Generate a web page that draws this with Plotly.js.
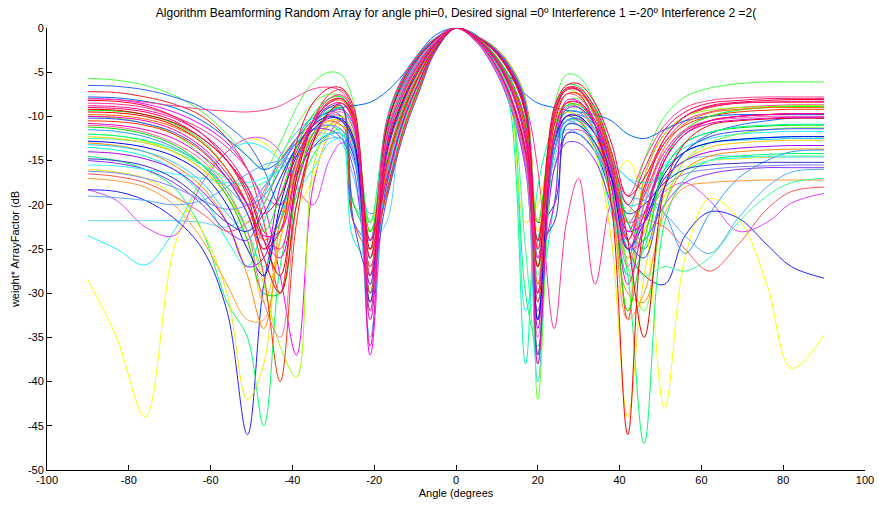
<!DOCTYPE html>
<html><head><meta charset="utf-8">
<script src="https://cdn.plot.ly/plotly-3.0.1.min.js"></script>
<style>html,body{margin:0;padding:0;background:#fff}#chart{width:879px;height:505px}</style>
</head><body><div id="chart"></div>
<script>
// Angles (degrees) at which each beam pattern was read
const angles = [-90,-83,-76,-69,-62,-56,-51,-47,-43,-39,-35,-31,-28,-25,-21,-17,-13,-9,-5,0,5,9,13,17,20,24,27,30,34,38,42,46,51,56,62,69,76,82,90];

// weight*ArrayFactor (dB) for each random array realisation
const s01 = [-5.7,-5.9,-6.5,-7.6,-9.5,-12,-14.5,-16,-13,-9,-6.2,-5,-5.3,-8.5,-24,-11,-5.8,-3,-1.2,0,-1.15,-2.9,-5.8,-11,-27,-9,-5.3,-5.5,-8.5,-14,-21,-15,-10,-7.8,-6.8,-6.3,-6.1,-6.1,-6.1];
const s02 = [-6.5,-6.6,-7,-7.8,-9,-11,-13,-16,-20,-15,-11,-9.5,-10,-22,-24,-13.5,-8.2,-4.5,-1.8,0,-1.5,-4,-8,-15,-30,-13,-10,-9.8,-11,-15,-22,-25,-18,-14,-12,-11,-10.5,-10.2,-10.2];
const s03 = [-7.2,-7.3,-7.8,-8.6,-10,-12.5,-16,-22,-30,-17,-10.5,-7.5,-7,-9.5,-27,-18.5,-11.8,-6.8,-2.5,0,-0.9,-2,-4.1,-8.2,-26,-10,-6.8,-7,-10,-17,-33,-17,-12,-10,-9,-8.5,-8.4,-8.4,-8.4];
const s04 = [-8,-8.1,-8.6,-9.5,-11,-13,-16,-20,-28,-37,-18,-12,-10.5,-12,-37,-16.5,-10,-5.5,-2.2,0,-1.25,-3.1,-6.2,-11.5,-33,-14,-10,-10,-12,-18,-24,-19,-14,-11.5,-10.5,-10,-9.8,-9.7,-9.7];
const s05 = [-8.5,-8.6,-9,-10,-11.5,-13.5,-16,-19,-20,-16,-12,-10,-10,-13,-29,-12.5,-7.5,-4,-1.7,0,-0.95,-2.1,-4.3,-8.5,-16,-34,-22,-17,-29,-20,-26,-18,-13,-10.5,-9.5,-9,-8.8,-8.7,-8.7];
const s06 = [-23.5,-25,-26.8,-23,-17,-14,-13,-13.5,-15,-18,-16,-13,-12.5,-15,-26,-10.5,-5.5,-2.8,-1.1,0,-1.3,-3.5,-7,-32,-24,-15,-11,-10.5,-12,-16,-22,-19,-15.5,-13.5,-12.5,-12,-11.8,-11.7,-11.7];
const s07 = [-28.5,-35,-44,-25,-17,-14,-12.5,-13,-15,-20,-17,-12,-11,-13.5,-30,-17.5,-11,-6.2,-2.4,0,-1.2,-3,-6,-11.2,-28,-12,-9.5,-10.5,-14,-17,-15,-21,-43,-26,-19.3,-21.5,-29,-38.5,-34.7];
const s08 = [-21.8,-21.8,-21.8,-21.8,-22,-22.5,-21,-18,-15,-13,-12,-12,-13,-17,-24,-22,-8.5,-4.6,-1.9,0,-1,-2.3,-4.5,-9,-29,-13,-10,-10.5,-13,-19,-28,-21,-17,-15,-14.5,-14.5,-14.6,-14.6,-14.6];
const s09 = [-18.3,-19.5,-22.5,-23.5,-17.5,-14,-12.5,-12.5,-14,-18,-20,-15,-13,-14,-24,-11.5,-6.2,-3.2,-1.3,0,-1.55,-4.1,-8.2,-15.5,-30,-16,-12,-11.5,-13,-17,-22,-21,-18.5,-17.5,-19.5,-23,-22,-19.8,-18.7];
const s10 = [-18.3,-18.5,-19.5,-21.5,-25,-32,-46,-29,-21,-16.5,-13.5,-12,-12,-14.5,-31,-15.5,-9.2,-5.1,-2,0,-1.1,-2.8,-5.5,-10.5,-22,-20,-12,-12,-14,-19,-25,-28,-29,-23.5,-20.8,-21.5,-24.5,-27,-28.3];
const s11 = [-14.5,-15,-16,-18,-23,-31,-35,-45,-27,-19,-14.5,-12,-11.5,-20,-22,-14,-8.8,-4.8,-1.9,0,-1.35,-3.6,-7.2,-30,-36,-14,-10.5,-10.5,-13,-18,-28,-47,-22,-17,-15,-14.5,-14.3,-14.2,-14.2];
const s12 = [-13,-13.3,-14,-15.5,-18,-22,-28,-34,-24,-17,-13,-11,-10.5,-12.5,-25,-19,-12,-7,-2.6,0,-0.92,-2.05,-4,-8,-25,-11,-8.5,-9,-12,-20,-30,-31,-20,-16,-14.5,-14,-13.8,-13.7,-13.7];
const s13 = [-16,-16.3,-17,-19,-23,-30,-42,-38,-22,-16,-12.5,-11,-11,-13,-25,-12,-6.5,-3.4,-1.4,0,-1.45,-3.9,-7.8,-22,-20,-12,-9.5,-10,-14,-24,-44,-28,-19,-16,-15,-14.8,-14.6,-14.5,-14.5];
const s14 = [-12,-12.2,-12.8,-14,-16,-19,-23,-29,-36,-39.5,-16,-11,-10,-12,-22,-13,-7.8,-4.2,-1.7,0,-1.2,-3.1,-6.1,-11.8,-24,-10,-7,-7.5,-11,-19,-32,-17,-12,-10,-9.3,-9,-8.9,-8.8,-8.8];
const s15 = [-17,-17.3,-18,-20,-24,-29,-33,-33,-22,-15.5,-12,-10.5,-10.5,-12.5,-23,-15,-9,-5,-2,0,-0.97,-2.2,-4.4,-8.8,-22,-11,-8.5,-9,-12,-19,-33,-30,-21,-18,-17.5,-17.3,-17.2,-17.2,-17.2];
const s16 = [-7.8,-7.9,-8.3,-9,-10.5,-12.5,-14.5,-16,-15,-12.5,-10.5,-9.5,-9,-8.8,-8.4,-7.2,-5.3,-2.8,-0.8,0,-0.8,-2.8,-5.4,-7.5,-8.5,-9,-9.3,-9.5,-9.8,-10.5,-12,-12.5,-11.5,-10.5,-10,-9.8,-9.8,-9.8,-9.8];
const s17 = [-13.5,-13.8,-14.5,-16,-19,-24,-27,-22,-17,-13.5,-11.5,-11,-12,-24,-26,-18,-11.2,-6.4,-2.4,0,-1.25,-3.2,-6.4,-12,-30,-20,-10,-10.5,-13.5,-21,-26,-20,-16,-14,-13,-12.6,-12.4,-12.3,-12.3];
const s18 = [-15,-15.3,-16,-17.5,-20,-23,-24,-20,-16,-13,-11.5,-11.5,-12.5,-16,-29,-10.8,-5.7,-2.9,-1.15,0,-1.6,-4.3,-8.5,-16,-32,-16,-13,-13,-15,-20,-25,-24,-20,-17.5,-16.5,-16,-15.8,-15.8,-15.8];
const s19 = [-12.5,-12.6,-13,-14,-15.5,-17,-18,-17.5,-16,-14,-12,-10.5,-10.5,-13,-32,-14.5,-8.5,-4.6,-1.85,0,-1.3,-3.5,-7,-25,-38,-14,-10.5,-10.5,-13,-19,-25,-28,-27,-27.5,-26,-22,-19,-17.5,-17];
const s20 = [-16.5,-16.8,-17.5,-19,-21,-23,-22,-18.5,-15,-12.5,-11,-10.5,-11,-14,-27,-16,-9.7,-5.4,-2.15,0,-1,-2.4,-4.7,-9.4,-30,-13,-10,-10.5,-13,-17,-20,-21.5,-22.5,-25,-27.5,-24.5,-20.5,-18.5,-18];
const s21 = [-11.5,-11.7,-12.3,-13.5,-15.5,-18,-20,-19,-16,-12.5,-10,-9,-9.2,-11.5,-25,-17,-10.5,-6,-2.3,0,-1.15,-2.9,-5.7,-10.8,-33,-12.5,-9.5,-9.5,-11.5,-15,-17,-18.5,-21,-25.5,-21,-17,-15,-14,-13.8];
const s22 = [-19,-19.2,-19.5,-20,-19.5,-18,-16.5,-15.5,-15,-14.5,-13.5,-12.5,-12.5,-15,-21,-19,-7,-3.3,-1.35,0,-1.5,-3.9,-7.9,-14.8,-31,-14,-11.5,-12,-14,-17,-19,-19.5,-21,-23.5,-25.5,-21.5,-18,-16.3,-16];
const s23 = [-15.5,-15.6,-16,-16.5,-17,-17.5,-17.5,-17,-16,-14.5,-13,-12,-12,-14,-25,-13.2,-7.2,-3.8,-1.6,0,-0.95,-2.1,-4.2,-8.4,-28,-14,-11,-11,-12.5,-15,-17,-17.5,-17,-16,-15,-14.7,-14.5,-14.5,-14.5];
const s24 = [-12.3,-12.5,-13,-14,-16,-19,-24,-31,-24,-16,-12,-10.5,-10.5,-12.5,-22,-15.8,-9.5,-5.2,-2.1,0,-1.18,-3,-5.9,-11.4,-23,-11,-8.5,-9,-12,-18,-26,-23,-17.5,-15,-13.5,-13,-12.8,-12.7,-12.7];
const s25 = [-11.2,-11.4,-12,-13.2,-15.5,-19,-24,-30,-30,-18,-12,-9.5,-9,-20,-23,-11.8,-6.8,-3.6,-1.5,0,-1.42,-3.8,-7.6,-14.2,-37,-12.5,-8.8,-8.7,-11,-17,-32,-24,-16,-13,-11.8,-11.3,-11.1,-11,-11];
const s26 = [-14,-14.2,-14.8,-16,-18.5,-22,-27,-26,-18,-13.5,-11,-10,-10.5,-13,-28,-17.8,-10.8,-6.1,-2.35,0,-0.98,-2.25,-4.5,-9,-34,-14,-10.5,-10.3,-12,-16.5,-23,-22,-17,-15,-14,-13.6,-13.4,-13.3,-13.3];
const s27 = [-16.2,-16.4,-17,-18,-19.5,-20.5,-20,-18,-15.5,-13,-11.5,-11,-11.5,-14,-24,-12.8,-7,-3.7,-1.55,0,-1.22,-3.15,-6.3,-12.2,-26,-13,-10.5,-11,-13.5,-18,-22,-21,-18,-16.5,-16,-15.7,-15.6,-15.5,-15.5];
const s28 = [-12,-12.2,-12.7,-13.7,-15.5,-18.5,-23,-27,-22,-15,-11,-9.3,-9.2,-11.5,-22,-10.8,-6,-3.1,-1.25,0,-1.3,-3.5,-8.5,-38,-18,-11,-8.8,-9,-11.5,-17,-28,-25,-16,-13,-11.8,-11.2,-11,-10.9,-10.9];
const s29 = [-13.2,-13.4,-14,-15.2,-17.5,-21,-23,-19,-14.5,-11.8,-10.2,-9.8,-10.5,-13.5,-35,-16.8,-10.2,-5.6,-2.2,0,-1.48,-3.95,-7.9,-15.2,-40,-14,-10.5,-10.2,-11.8,-15.5,-20,-19.5,-16,-14,-13,-12.7,-12.6,-12.5,-12.5];
const s30 = [-10,-10.2,-10.8,-12,-14.5,-18,-22,-20,-15,-11,-8.5,-7.5,-7.8,-10.5,-26,-13.8,-8,-4.4,-1.75,0,-0.93,-2.1,-4.2,-8.3,-42,-13,-8.5,-8,-10,-15.5,-27,-32,-20,-15,-13,-12,-11.5,-11.3,-11.3];
const s31 = [-10.5,-10.6,-11,-12,-14,-17,-21,-28,-40,-22,-13,-9.5,-8.8,-22,-25,-18.8,-11.6,-6.6,-2.5,0,-1.2,-3.05,-6.1,-11.6,-31,-12,-8.5,-8.5,-11,-17,-24,-18,-13,-11,-10,-9.5,-9.3,-9.2,-9.2];
const s32 = [-14.8,-15,-15.6,-17,-19.5,-22,-23,-21,-17,-13.5,-11,-10,-10.5,-13,-31,-11.2,-6.4,-3.3,-1.35,0,-1.38,-3.7,-7.4,-13.8,-24,-22,-11,-11,-13,-17,-21,-20,-17.5,-16,-15.5,-15.3,-15.2,-15.2,-15.2];
const s33 = [-12.8,-13,-13.5,-14.5,-16.5,-20,-25,-28,-20,-14.5,-11.5,-10.2,-10.3,-12.5,-30,-14.2,-8.3,-4.7,-1.85,0,-1.02,-2.4,-4.8,-9.6,-33,-13,-10,-10,-12,-17,-25,-22,-16.5,-14,-13,-12.6,-12.4,-12.3,-12.3];
const s34 = [-9.3,-9.4,-9.8,-10.8,-12.8,-16,-20,-23,-19,-13.5,-9.8,-8,-7.8,-10,-23,-15.2,-9.4,-5.3,-2.05,0,-1.12,-2.75,-5.5,-10.6,-22,-9.3,-6.5,-6.6,-9.2,-14.5,-22,-24,-15,-11.5,-10,-9.3,-9,-8.9,-8.9];
const s35 = [-11,-11.2,-11.8,-13,-15,-18.5,-23,-31,-35,-20,-13,-10,-9.5,-11.5,-26,-12.2,-6.6,-3.5,-1.45,0,-1.52,-4.05,-8.1,-15.3,-35,-13,-9,-9,-12,-18,-27,-20,-14,-11.5,-10.5,-10.2,-10,-10,-10];
const s36 = [-10.2,-10.3,-10.8,-11.8,-13.8,-17,-21,-25,-21,-15,-11,-9,-8.8,-22,-28,-19.5,-12.3,-7.2,-2.65,0,-0.96,-2.15,-4.3,-8.6,-37,-13,-9.2,-9,-11,-16,-24,-26,-18,-14,-12.3,-11.7,-11.5,-11.4,-11.4];
const s37 = [-9.5,-9.6,-10,-11,-13,-16,-20,-26,-30,-20,-13,-9.5,-8.5,-10.5,-28,-13.6,-8.1,-4.4,-1.75,0,-1.24,-3.2,-6.4,-12.4,-27,-11,-7.5,-7.5,-11,-20,-46,-22,-15,-12,-10.5,-10,-9.8,-9.7,-9.7];
const s38 = [-9.2,-9.3,-9.8,-10.7,-12.5,-15,-18.5,-24,-28,-17,-11,-8.3,-8,-10.2,-25,-11.4,-6,-3.1,-1.25,0,-1.4,-3.75,-7.5,-14,-27,-10,-7,-7,-9.5,-15,-24,-35,-18,-13,-11,-10.5,-10.3,-10.2,-10.2];
const s39 = [-9.8,-9.9,-10.3,-11.2,-13,-16,-20,-24,-22,-15,-10.5,-8.5,-8.2,-10.5,-30,-16.2,-9.9,-5.5,-2.15,0,-1.05,-2.5,-5,-9.8,-29,-10.5,-7.5,-7.4,-9.5,-14.5,-22,-19,-13.5,-10.8,-9.6,-9.2,-9,-9,-9];
const s40 = [-10.8,-11,-11.5,-12.5,-14.5,-17,-20,-24,-26,-18,-12.5,-9.8,-9.2,-11,-33,-14.6,-8.6,-4.7,-1.85,0,-1.28,-3.3,-6.6,-12.8,-26,-20,-8.2,-8.3,-11,-18,-29,-22,-15,-12,-10.8,-10.4,-10.2,-10.1,-10.1];
const s41 = [-8,-8.1,-8.4,-8.8,-9.2,-9.4,-9.5,-9.3,-8.8,-7.8,-6.9,-6.7,-7.2,-10,-28,-10.6,-5.6,-2.9,-1.15,0,-1.44,-3.85,-7.7,-14.6,-24,-10,-7.5,-7.8,-10.5,-15,-19,-15,-11,-9,-8.2,-7.9,-7.8,-7.8,-7.8];
const s42 = [-9,-9.1,-9.5,-10.5,-12.5,-15,-18,-21,-19,-14,-10.5,-8.5,-8,-10,-24,-17.2,-10.6,-6,-2.3,0,-0.99,-2.3,-4.6,-9.2,-25,-9.5,-6.8,-6.8,-9,-14,-20,-16,-11.5,-9.5,-8.5,-8.2,-8,-8,-8];
const s43 = [-10,-10.1,-10.5,-11.5,-13.5,-16.5,-20,-23.5,-23,-16,-11,-8.8,-8.5,-10.8,-36,-13.4,-7.6,-4.1,-1.65,0,-1.16,-2.95,-5.9,-11,-38,-12,-8.5,-8.4,-10.5,-16,-25,-21,-14.5,-11.7,-10.5,-10,-9.8,-9.7,-9.7];
const s44 = [-8.2,-8.3,-8.8,-10,-12,-15,-19,-25,-23,-13,-8.5,-6.8,-6.8,-9,-26,-15.6,-9.6,-5.3,-2.1,0,-1.03,-2.45,-4.9,-9.7,-24,-9,-6.5,-6.3,-8.5,-13,-19,-17,-12.5,-10,-8.8,-8.4,-8.2,-8.1,-8.1];
const s45 = [-8.8,-8.9,-9.3,-10.2,-12,-14.5,-18,-23,-25,-16,-10.5,-8,-7.6,-9.8,-32,-12.4,-7.2,-3.9,-1.6,0,-1.36,-3.65,-7.3,-13.6,-30,-10,-7,-7.1,-9.8,-15.5,-23,-18.5,-12.5,-10,-8.9,-8.5,-8.4,-8.3,-8.3];

const series = [s01,s02,s03,s04,s05,s06,s07,s08,s09,s10,s11,s12,s13,s14,s15,s16,s17,s18,s19,s20,s21,s22,s23,s24,s25,s26,s27,s28,s29,s30,s31,s32,s33,s34,s35,s36,s37,s38,s39,s40,s41,s42,s43,s44,s45];
const colors = ['#44ff44','#3366ff','#ff2020','#ff00ff','#ff3399','#22eeff','#ffff00','#66ccff','#dd44ff','#2222ff','#00ff66','#ff8800','#eeee00','#99ff00','#ff9933','#0066ff','#00ffcc','#8833ff','#33ff99','#ff5555','#3399ff','#55aaff','#33ffff','#ffcc00','#00dd00','#aa00ff','#8080ff','#00ff99','#22ccff','#66ff33','#ff3300','#3333cc','#0000ee','#00ff00','#ff66aa','#4444ff','#ff0000','#dd0000','#ff6600','#ee00cc','#ff4488','#ff0066','#ff00aa','#ff0033','#ff1493'];

const xTickVals = [-100,-80,-60,-40,-20,0,20,40,60,80,100];
const xTickText = ['-100','-80','-60','-40','-20','0','20','40','60','80','100'];
const yTickVals = [0,-5,-10,-15,-20,-25,-30,-35,-40,-45,-50];
const yTickText = ['0','-5','-10','-15','-20','-25','-30','-35','-40','-45','-50'];

const traces = series.map((ys, i) => ({
  x: angles, y: ys, type: 'scatter', mode: 'lines',
  line: {color: colors[i % colors.length], width: 1, shape: 'spline', smoothing: 1},
  hoverinfo: 'skip', showlegend: false
}));

const font = {family: 'Liberation Sans, Arial, Helvetica, sans-serif', size: 11, color: '#000'};
const layout = {
  width: 879, height: 505,
  margin: {l: 47, r: 14, t: 28, b: 35, pad: 0},
  paper_bgcolor: '#fff', plot_bgcolor: '#fff',
  font: font,
  showlegend: false,
  title: {text: 'Algorithm Beamforming Random Array for angle phi=0, Desired signal =0º Interference 1 =-20º Interference 2 =2(',
          font: {family: font.family, size: 12, color: '#000'}, x: 0.5, xref: 'paper', xanchor: 'center', y: 0.975, yref: 'container', yanchor: 'middle'},
  xaxis: {range: [-100, 100], tickvals: xTickVals, ticktext: xTickText, ticks: 'inside', ticklen: 5, tickcolor: '#000',
          showline: true, linecolor: '#000', linewidth: 1, mirror: false, showgrid: false, zeroline: false,
          title: {text: 'Angle (degrees', font: {size: 11}, standoff: 4}, tickfont: {size: 11}},
  yaxis: {range: [-50, 0], tickvals: yTickVals, ticktext: yTickText, ticks: 'inside', ticklen: 5, tickcolor: '#000',
          showline: true, linecolor: '#000', linewidth: 1, mirror: false, showgrid: false, zeroline: false,
          title: {text: 'weight* ArrayFactor (dB', font: {size: 11}, standoff: 6}, tickfont: {size: 11}}
};
Plotly.newPlot('chart', traces, layout, {staticPlot: true, displayModeBar: false});
</script>
</body></html>
